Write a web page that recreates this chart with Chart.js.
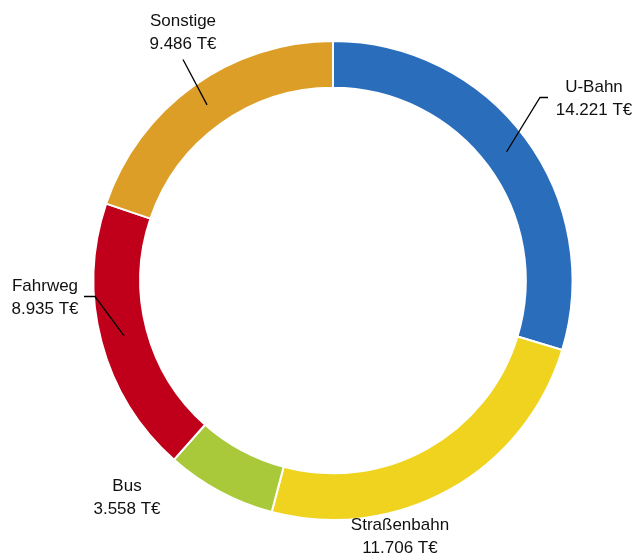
<!DOCTYPE html>
<html>
<head>
<meta charset="utf-8">
<script src="https://cdn.jsdelivr.net/npm/chart.js@4"></script>
<style>
  html, body { margin: 0; padding: 0; background: #fff; }
  #wrap { width: 633px; height: 559px; }
</style>
</head>
<body>
<div id="wrap"><canvas id="myChart"></canvas></div>
<script>
const categories = ['U-Bahn', 'Straßenbahn', 'Bus', 'Fahrweg', 'Sonstige'];
const values = [14221, 11706, 3558, 8935, 9486];
const valueLabels = ['14.221 T€', '11.706 T€', '3.558 T€', '8.935 T€', '9.486 T€'];
const colors = ['#2a6ebb', '#f0d31e', '#a9c93a', '#c0001a', '#dd9e28'];

// where each label sits, relative to the chart centre; leader = elbow point of the line (or null)
const labelLayout = [
  { dx: 261, dy: -182, leader: [207, -183, 215] },
  { dx: 67, dy: 256, leader: null },
  { dx: -206, dy: 217, leader: null },
  { dx: -288, dy: 17, leader: [-238, 16, -249] },
  { dx: -150, dy: -248, leader: [-150, -221, null] }
];

const labelPlugin = {
  id: 'labels',
  afterDatasetsDraw(chart) {
    const ctx = chart.ctx;
    const arcs = chart.getDatasetMeta(0).data;
    ctx.save();
    ctx.font = '17px "Liberation Sans", Arial, sans-serif';
    ctx.fillStyle = '#111';
    ctx.textAlign = 'center';
    ctx.textBaseline = 'middle';
    arcs.forEach((arc, i) => {
      const cx = arc.x, cy = arc.y;
      const lay = labelLayout[i];
      const tx = cx + lay.dx, ty = cy + lay.dy;
      ctx.fillText(categories[i], tx, ty - 11.5);
      ctx.fillText(valueLabels[i], tx, ty + 11.5);
      if (lay.leader) {
        const mid = (arc.startAngle + arc.endAngle) / 2;
        const r = (arc.innerRadius + arc.outerRadius) / 2;
        const sx = cx + Math.cos(mid) * r, sy = cy + Math.sin(mid) * r;
        ctx.beginPath();
        ctx.strokeStyle = '#000';
        ctx.lineWidth = 1.3;
        ctx.moveTo(sx, sy);
        ctx.lineTo(cx + lay.leader[0], cy + lay.leader[1]);
        if (lay.leader[2] !== null) ctx.lineTo(cx + lay.leader[2], cy + lay.leader[1]);
        ctx.stroke();
      }
    });
    ctx.restore();
  }
};

new Chart(document.getElementById('myChart'), {
  type: 'doughnut',
  data: {
    labels: categories,
    datasets: [{
      data: values,
      backgroundColor: colors,
      borderColor: '#ffffff',
      borderWidth: 2
    }]
  },
  options: {
    responsive: true,
    maintainAspectRatio: false,
    animation: false,
    cutout: '80.5%',
    layout: { padding: { top: 40, bottom: 38, left: 92, right: 59 } },
    plugins: {
      legend: { display: false },
      tooltip: { enabled: false }
    }
  },
  plugins: [labelPlugin]
});
</script>
</body>
</html>
